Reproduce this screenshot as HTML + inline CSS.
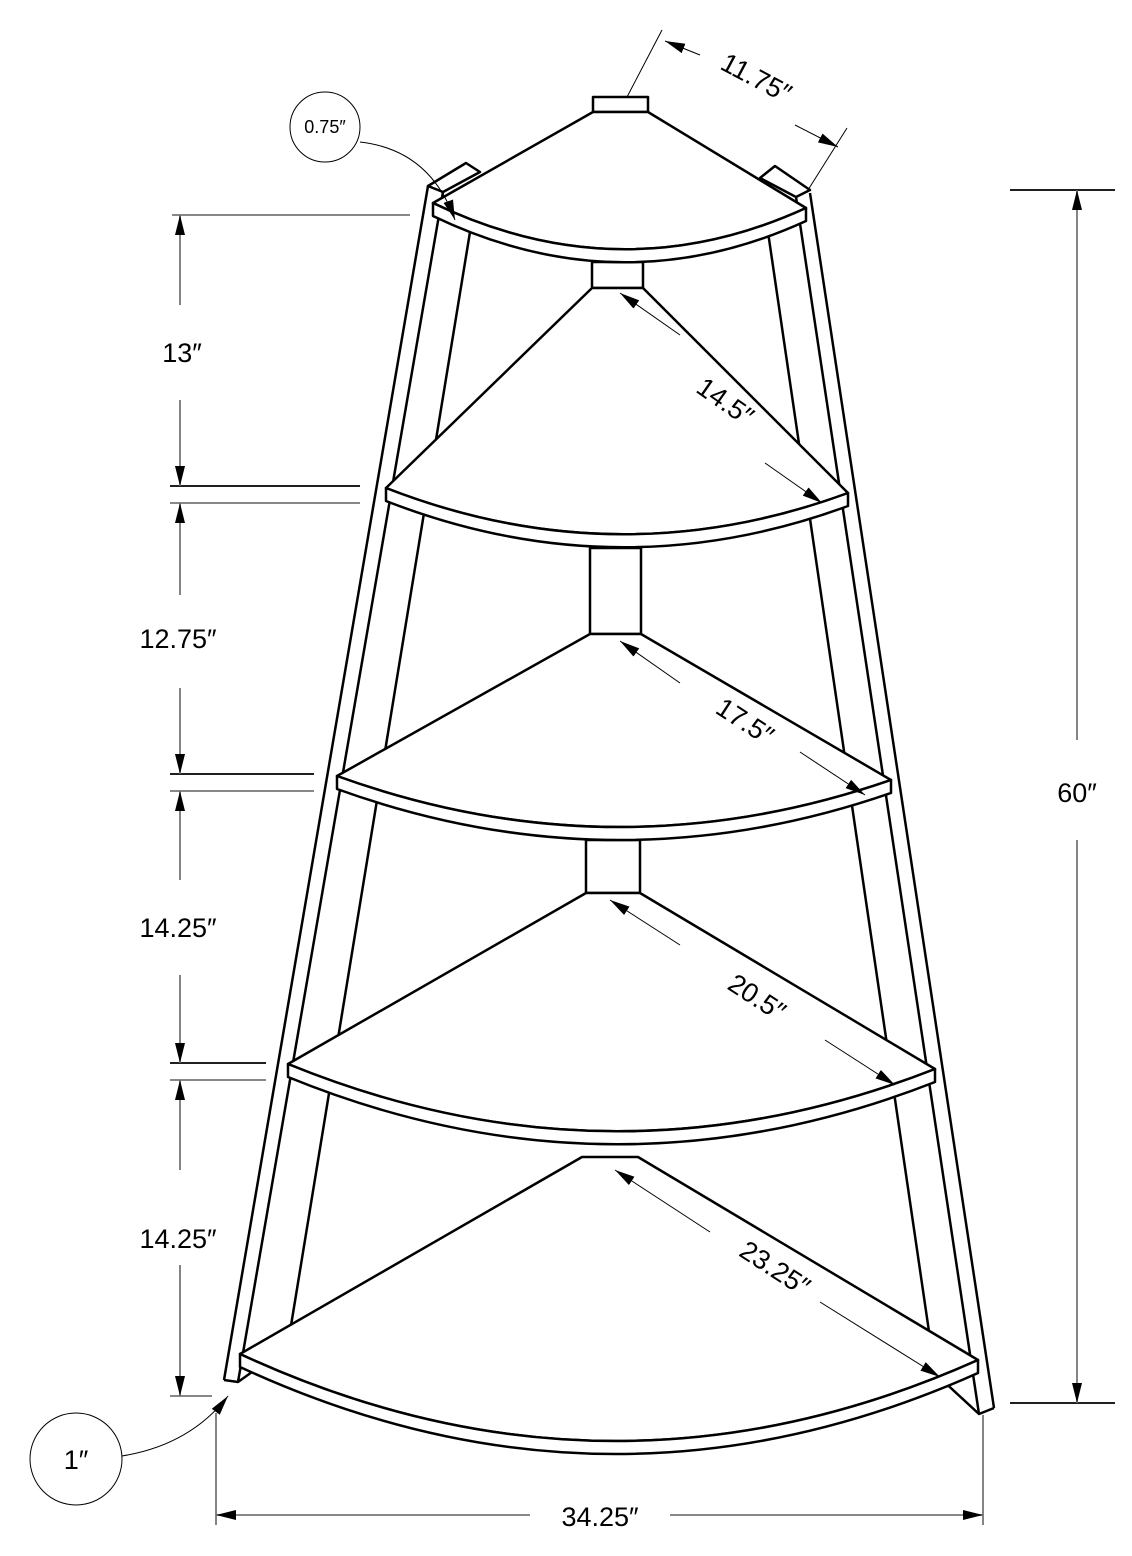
<!DOCTYPE html>
<html><head><meta charset="utf-8"><style>html,body{margin:0;padding:0;background:#fff}svg{display:block}</style></head>
<body>
<svg width="1132" height="1556" viewBox="0 0 1132 1556" xmlns="http://www.w3.org/2000/svg" font-family="Liberation Sans, sans-serif">
<defs>
<marker id="a" viewBox="0 0 20 10" refX="20" refY="5" markerWidth="20" markerHeight="12" markerUnits="userSpaceOnUse" orient="auto"><path d="M0,0 L20,5 L0,10 z" fill="#000"/></marker>
</defs>
<g stroke="#000" stroke-width="2.5" fill="#fff" stroke-linejoin="round">
<line x1="428" y1="186" x2="224" y2="1380"/>
<line x1="443" y1="192" x2="238" y2="1382"/>
<line x1="470" y1="232" x2="287" y2="1350"/>
<line x1="810" y1="193" x2="994" y2="1408"/>
<line x1="796" y1="197" x2="979" y2="1414"/>
<line x1="768" y1="232" x2="932" y2="1352"/>
<polygon points="428,186 466,163 480,172 443,192"/>
<polygon points="760,178 775,166 810,190 796,197"/>
<polyline points="224,1380 238,1382 280,1352" fill="none"/>
<polyline points="940,1378 979,1414 994,1408" fill="none"/>
<rect x="593" y="97" width="55" height="15"/>
<rect x="592" y="262" width="51" height="26"/>
<rect x="590" y="548" width="51" height="86"/>
<rect x="586" y="840" width="54" height="53"/>
<path d="M593,112 L433,203 Q620,293 806,208 L648,112 Z"/>
<path d="M433,203 L433,216 Q620,306 806,221 L806,208 Q620,293 433,203 Z"/>
<path d="M592,288 L386,488 Q617,578 848,493 L643,288 Z"/>
<path d="M386,488 L386,501 Q617,591 848,506 L848,493 Q617,578 386,488 Z"/>
<path d="M590,634 L337,776 Q614,876 891,780 L641,634 Z"/>
<path d="M337,776 L337,789 Q614,889 891,793 L891,780 Q614,876 337,776 Z"/>
<path d="M586,893 L288,1064 Q611,1196 935,1069 L640,893 Z"/>
<path d="M288,1064 L288,1077 Q611,1209 935,1082 L935,1069 Q611,1196 288,1064 Z"/>
<path d="M582,1157 L240,1354 Q609,1525 978,1360 L638,1157 Z"/>
<path d="M240,1354 L240,1367 Q609,1538 978,1373 L978,1360 Q609,1525 240,1354 Z"/>
</g>
<g stroke="#777" stroke-width="1.8" fill="none">
<line x1="172" y1="215" x2="410" y2="215"/>
<line x1="170" y1="486" x2="360" y2="486" stroke="#000"/>
<line x1="170" y1="503" x2="360" y2="503"/>
<line x1="170" y1="774" x2="314" y2="774" stroke="#000"/>
<line x1="170" y1="791" x2="314" y2="791"/>
<line x1="170" y1="1063" x2="266" y2="1063" stroke="#000"/>
<line x1="170" y1="1080" x2="266" y2="1080"/>
<line x1="170" y1="1396" x2="212" y2="1396"/>
<line x1="180" y1="305" x2="180" y2="215" marker-end="url(#a)"/>
<line x1="180" y1="400" x2="180" y2="486" marker-end="url(#a)"/>
<line x1="180" y1="595" x2="180" y2="503" marker-end="url(#a)"/>
<line x1="180" y1="688" x2="180" y2="774" marker-end="url(#a)"/>
<line x1="180" y1="880" x2="180" y2="791" marker-end="url(#a)"/>
<line x1="180" y1="975" x2="180" y2="1063" marker-end="url(#a)"/>
<line x1="180" y1="1170" x2="180" y2="1080" marker-end="url(#a)"/>
<line x1="180" y1="1265" x2="180" y2="1396" marker-end="url(#a)"/>
<line x1="1010" y1="190" x2="1115" y2="190" stroke="#000"/>
<line x1="1010" y1="1403" x2="1115" y2="1403" stroke="#000"/>
<line x1="1077" y1="740" x2="1077" y2="190" marker-end="url(#a)"/>
<line x1="1077" y1="840" x2="1077" y2="1403" marker-end="url(#a)"/>
<line x1="216" y1="1413" x2="216" y2="1525"/>
<line x1="983" y1="1415" x2="983" y2="1525"/>
<line x1="530" y1="1515" x2="216" y2="1515" marker-end="url(#a)"/>
<line x1="670" y1="1515" x2="983" y2="1515" marker-end="url(#a)"/>
</g>
<g stroke="#000" stroke-width="1" fill="none">
<line x1="627" y1="97" x2="662" y2="30"/>
<line x1="808" y1="190" x2="847" y2="128"/>
<line x1="700" y1="55" x2="665" y2="41" marker-end="url(#a)"/>
<line x1="795" y1="125" x2="838" y2="147" marker-end="url(#a)"/>
<line x1="680" y1="335" x2="620" y2="293" marker-end="url(#a)"/>
<line x1="765" y1="463" x2="822" y2="503" marker-end="url(#a)"/>
<line x1="680" y1="683" x2="620" y2="641" marker-end="url(#a)"/>
<line x1="800" y1="752" x2="865" y2="795" marker-end="url(#a)"/>
<line x1="680" y1="945" x2="610" y2="900" marker-end="url(#a)"/>
<line x1="825" y1="1040" x2="895" y2="1085" marker-end="url(#a)"/>
<line x1="710" y1="1232" x2="615" y2="1170" marker-end="url(#a)"/>
<line x1="820" y1="1302" x2="940" y2="1377" marker-end="url(#a)"/>
<circle cx="325" cy="127" r="35"/>
<path d="M360,142 Q430,150 455,220" marker-end="url(#a)"/>
<circle cx="76" cy="1459" r="46"/>
<path d="M122,1456 Q190,1445 228,1396" marker-end="url(#a)"/>
</g>
<g font-size="27" fill="#000" text-anchor="middle">
<text x="182" y="362">13″</text>
<text x="178" y="648">12.75″</text>
<text x="178" y="937">14.25″</text>
<text x="178" y="1248">14.25″</text>
<text x="1077" y="802">60″</text>
<text x="600" y="1526">34.25″</text>
<text x="76" y="1469">1″</text>
<text x="325" y="133" font-size="18">0.75″</text>
<text transform="translate(752,86) rotate(28)">11.75″</text>
<text transform="translate(720,409) rotate(35)">14.5″</text>
<text transform="translate(740,729) rotate(33)">17.5″</text>
<text transform="translate(752,1005) rotate(33)">20.5″</text>
<text transform="translate(770,1276) rotate(33)">23.25″</text>
</g>
</svg>
</body></html>
